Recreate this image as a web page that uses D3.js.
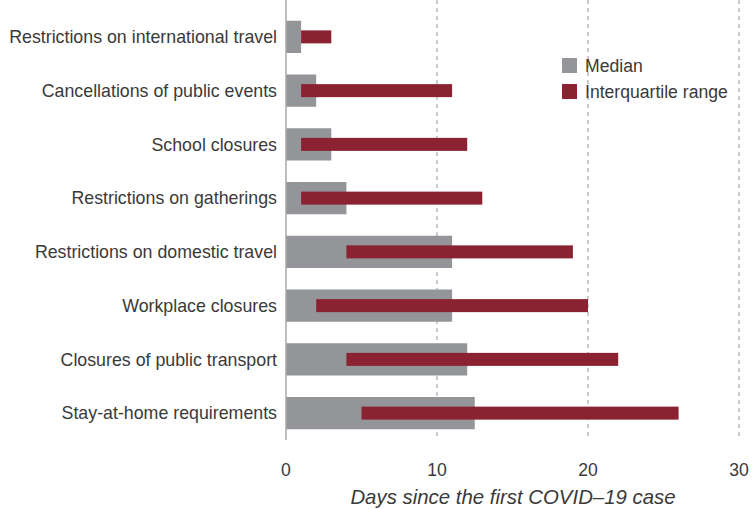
<!DOCTYPE html>
<html>
<head>
<meta charset="utf-8">
<script src="https://cdn.jsdelivr.net/npm/d3@7"></script>
<style>
  body { margin: 0; background: #fff; }
  text { font-family: "Liberation Sans", Arial, sans-serif; fill: #3a3a3a; }
</style>
</head>
<body>
<div id="vis"></div>
<script>
const FRAME_WIDTH = 752;
const FRAME_HEIGHT = 509;
const MARGINS = {left: 286, right: 13, top: 10, bottom: 69};

// data
const categories = [
  "Restrictions on international travel",
  "Cancellations of public events",
  "School closures",
  "Restrictions on gatherings",
  "Restrictions on domestic travel",
  "Workplace closures",
  "Closures of public transport",
  "Stay-at-home requirements"
];
const median = [1, 2, 3, 4, 11, 11, 12, 12.5];
const iqrLow = [1, 1, 1, 1, 4, 2, 4, 5];
const iqrHigh = [3, 11, 12, 13, 19, 20, 22, 26];
const xTicks = [0, 10, 20, 30];

const GREY = "#939598";
const RED = "#8a2232";

const VIS_WIDTH = FRAME_WIDTH - MARGINS.left - MARGINS.right;
const VIS_HEIGHT = FRAME_HEIGHT - MARGINS.top - MARGINS.bottom;

const svg = d3.select("#vis")
  .append("svg")
    .attr("width", FRAME_WIDTH)
    .attr("height", FRAME_HEIGHT);

const X_SCALE = d3.scaleLinear()
  .domain([0, 30])
  .range([MARGINS.left, MARGINS.left + VIS_WIDTH]);

const Y_SCALE = d3.scaleBand()
  .domain(categories)
  .range([MARGINS.top, MARGINS.top + VIS_HEIGHT])
  .paddingInner(0.4)
  .paddingOuter(0.2);

// dashed grid
svg.selectAll(".grid")
  .data(xTicks.slice(1))
  .enter()
  .append("line")
    .attr("x1", d => X_SCALE(d))
    .attr("x2", d => X_SCALE(d))
    .attr("y1", 0)
    .attr("y2", MARGINS.top + VIS_HEIGHT)
    .attr("stroke", "#a7a9ac")
    .attr("stroke-width", 1.2)
    .attr("stroke-dasharray", "4,4");

// median bars
svg.selectAll(".med")
  .data(categories)
  .enter()
  .append("rect")
    .attr("x", X_SCALE(0))
    .attr("y", d => Y_SCALE(d))
    .attr("width", (d, i) => X_SCALE(median[i]) - X_SCALE(0))
    .attr("height", Y_SCALE.bandwidth())
    .attr("fill", GREY);

// interquartile bars
const IQR_H = 13;
svg.selectAll(".iqr")
  .data(categories)
  .enter()
  .append("rect")
    .attr("x", (d, i) => X_SCALE(iqrLow[i]))
    .attr("y", d => Y_SCALE(d) + Y_SCALE.bandwidth() / 2 - IQR_H / 2)
    .attr("width", (d, i) => X_SCALE(iqrHigh[i]) - X_SCALE(iqrLow[i]))
    .attr("height", IQR_H)
    .attr("fill", RED);

// zero line
svg.append("line")
  .attr("x1", X_SCALE(0))
  .attr("x2", X_SCALE(0))
  .attr("y1", 0)
  .attr("y2", MARGINS.top + VIS_HEIGHT)
  .attr("stroke", "#a7a9ac")
  .attr("stroke-width", 1.5);

// category labels
svg.selectAll(".cat")
  .data(categories)
  .enter()
  .append("text")
    .attr("x", X_SCALE(0) - 9)
    .attr("y", d => Y_SCALE(d) + Y_SCALE.bandwidth() / 2)
    .attr("dy", "0.35em")
    .attr("text-anchor", "end")
    .attr("font-size", "17.8px")
    .text(d => d);

// x axis labels
svg.selectAll(".tick")
  .data(xTicks)
  .enter()
  .append("text")
    .attr("x", d => X_SCALE(d))
    .attr("y", 470)
    .attr("dy", "0.35em")
    .attr("text-anchor", "middle")
    .attr("font-size", "17.6px")
    .text(d => d);

svg.append("text")
  .attr("x", 513)
  .attr("y", 497)
  .attr("dy", "0.35em")
  .attr("text-anchor", "middle")
  .attr("font-size", "20.4px")
  .attr("font-style", "italic")
  .text("Days since the first COVID\u201319 case");

// legend
const legend = [["Median", GREY], ["Interquartile range", RED]];
const lg = svg.selectAll(".lg")
  .data(legend)
  .enter()
  .append("g")
    .attr("transform", (d, i) => "translate(562," + (58 + i * 26) + ")");
lg.append("rect")
  .attr("width", 15)
  .attr("height", 15)
  .attr("fill", d => d[1]);
lg.append("text")
  .attr("x", 23)
  .attr("y", 7.5)
  .attr("dy", "0.35em")
  .attr("font-size", "17.6px")
  .text(d => d[0]);
</script>
</body>
</html>
